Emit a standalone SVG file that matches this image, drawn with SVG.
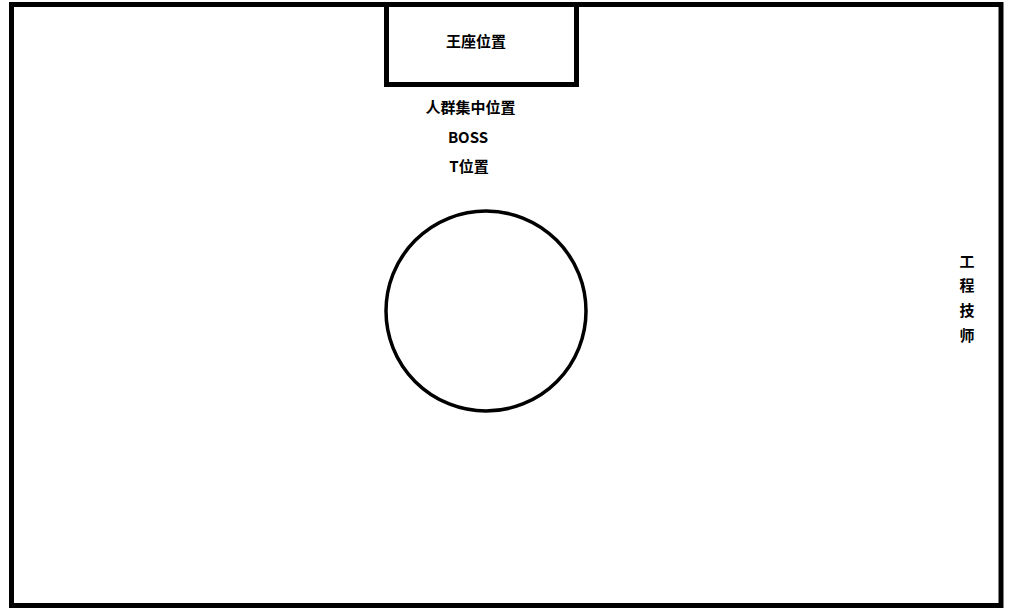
<svg xmlns="http://www.w3.org/2000/svg" width="1015" height="616" viewBox="0 0 1015 616">
<style>
.t{font-family:"Noto Sans CJK SC","Liberation Sans",sans-serif;font-size:15px;font-weight:bold;fill:#000;text-anchor:middle;dominant-baseline:central}
</style>
<rect width="1015" height="616" fill="#fff"/>
<g id="field"><rect x="11.5" y="4.5" width="989.5" height="601" fill="none" stroke="#000" stroke-width="5"/></g>
<g id="throne"><rect x="386.5" y="4.5" width="190" height="80" fill="none" stroke="#000" stroke-width="5"/>
<text class="t" x="476" y="40.5">王座位置</text></g>
<g id="labels">
<text class="t" x="470.5" y="106.5">人群集中位置</text>
<text class="t" x="468" y="136.5">BOSS</text>
<text class="t" x="469" y="165.5">T位置</text>
</g>
<g id="circle"><circle cx="486" cy="311" r="100" fill="none" stroke="#000" stroke-width="3.5"/></g>
<g id="engineer">
<text class="t" x="967" y="260.5">工</text>
<text class="t" x="967" y="284.5">程</text>
<text class="t" x="967" y="309.5">技</text>
<text class="t" x="967" y="334.5">师</text>
</g>
<g id="connectors"/>
</svg>
